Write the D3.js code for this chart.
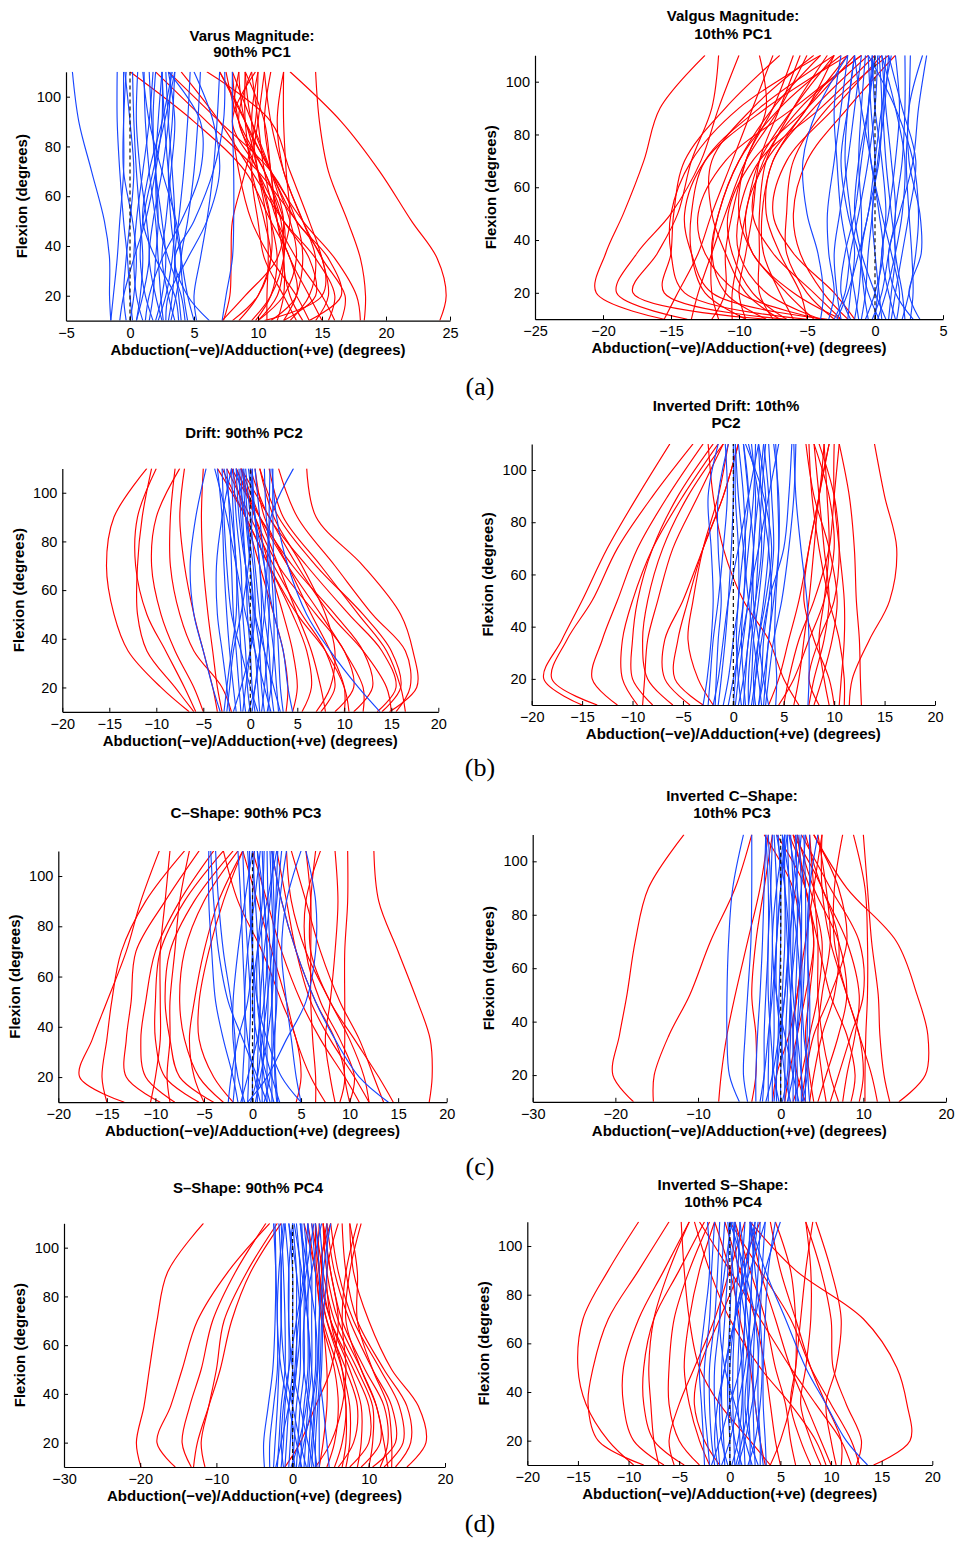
<!DOCTYPE html>
<html>
<head>
<meta charset="utf-8">
<script src="https://cdn.jsdelivr.net/npm/d3@7"></script>
<style>
  html, body { margin: 0; padding: 0; background: #fff; }
  svg { display: block; }
  .tick-label { font-family: "Liberation Sans", Arial, Helvetica, sans-serif; font-size: 14.5px; fill: #000; }
  .title, .axis-title { font-family: "Liberation Sans", Arial, Helvetica, sans-serif; font-size: 15px; font-weight: bold; fill: #000; }
  .panel-label { font-family: "Liberation Serif", "Times New Roman", serif; font-size: 26px; fill: #000; }
</style>
</head>
<body>
<svg id="chart" width="958" height="1545"></svg>
<script>
// ---------------- DATA ----------------
// Each curve: abduction/adduction angle (degrees) at these flexion angles (degrees)
const flexion = [10, 20, 35, 50, 70, 90, 110];

const yTicks = [20, 40, 60, 80, 100];
const xTicksVarus = [-5, 0, 5, 10, 15, 20, 25];
const xTicksValgus = [-25, -20, -15, -10, -5, 0, 5];
const xTicks20 = [-20, -15, -10, -5, 0, 5, 10, 15, 20];
const xTicks30 = [-30, -20, -10, 0, 10, 20];

// (a) Varus Magnitude: 90th% PC1
const varusRed = [
  [24.2, 24.7, 24, 22, 19.5, 16.5, 12.5],
  [18.3, 18.4, 18, 17, 15.5, 14.8, 14.5],
  [18, 17.7, 16, 13.5, 11, 9, 7],
  [14, 16.5, 15.5, 13, 11, 9.5, 9],
  [15.5, 16, 14.5, 12, 9.5, 7, 4],
  [10.5, 15, 15, 13, 10, 6, 2],
  [12, 14.5, 14, 12, 10, 8.5, 8],
  [10, 12, 13, 12.5, 11, 9, 8.5],
  [11, 13, 12.5, 11, 9, 5, 0],
  [9.5, 11, 12, 12, 10.5, 8.5, 9.5],
  [14, 13, 11, 9.5, 8.5, 8, 8.5],
  [7.2, 9, 11.5, 12, 11, 9.5, 8],
  [8, 10, 11, 10.5, 9.5, 9, 9],
  [10.7, 10.7, 10.8, 10.7, 10, 9.5, 10],
  [13, 12, 10.5, 10, 9.5, 10, 10.5],
  [16, 15, 13, 11.5, 10.5, 10, 9.5],
  [12.5, 14, 14.5, 13.5, 12, 11.5, 12],
  [11.5, 12, 12, 11.5, 11, 10.5, 9],
  [9.8, 11, 11.5, 11, 10, 9, 7],
  [14.5, 15.5, 15, 14, 12.5, 11, 6],
  [12, 13, 13.5, 13, 11, 7, 3],
  [15, 14, 12.5, 11.5, 11, 10.5, 11],
  [8.5, 10, 11, 11, 10, 8, 9.8],
  [13.5, 12.5, 12, 12.5, 12.2, 12, 12],
  [10, 11.5, 12, 11.8, 10.5, 8.5, 7.5],
  [16.5, 16.8, 15, 13.5, 12, 11, 10.5],
  [7.3, 7.8, 7.9, 8, 9, 9.8, 10]
];
const varusBlue = [
  [-1.5, -1.6, -1.6, -2, -3, -4, -4.5],
  [-1.5, -1.3, -1, -0.8, -0.5, -0.5, -0.5],
  [-0.3, -0.5, -0.3, 0, 0.3, 0, -0.4],
  [0, 0.3, 0.5, 0.2, -0.5, -0.5, -0.3],
  [0.5, 0.8, 1, 0.8, 0.5, 0.3, 0.2],
  [1, 0.5, 0.3, 0.5, 1, 1.5, 1.8],
  [1.5, 1.8, 2, 2.2, 2, 1.7, 1.5],
  [2, 2.5, 2.8, 2.5, 2, 1.8, 2],
  [2.5, 2, 1.5, 1.8, 2.5, 3, 3.2],
  [3, 3.3, 3.5, 3.2, 3, 3.3, 3.5],
  [3.5, 3, 2.5, 2.8, 3.2, 3.5, 3],
  [4, 3.8, 3.5, 3.8, 4.2, 4.5, 4.7],
  [4.5, 4.2, 4, 4.5, 5, 5.3, 5.5],
  [5, 4.5, 4, 3.5, 3, 2.7, 2.5],
  [5.2, 5, 5.5, 6, 6.5, 6.8, 7],
  [6.2, 4.5, 3.5, 5, 6.5, 7.3, 7.4],
  [7.2, 7.5, 8, 8.1, 8.1, 8, 8],
  [2.8, 3, 4.5, 6, 7, 6.5, 5],
  [1.2, 1.5, 2.5, 4, 5.5, 5.5, 3],
  [0.5, 1, 1.5, 1.3, 0.8, 0.5, 0.6],
  [3.8, 3.5, 2, 1, 1.5, 2.5, 3.3],
  [2.2, 2.8, 3.3, 3.5, 3.3, 3, 2.8],
  [-0.8, -0.5, 0.3, 1.2, 2, 2.5, 2.5],
  [1.8, 1.2, 0.8, 1, 1.8, 2.7, 3.5],
  [3.2, 3.6, 4, 3.6, 2.5, 1.5, 1],
  [4.3, 4, 3, 2.2, 2, 2.2, 2.5],
  [0.2, 0, -0.2, -0.5, -0.8, -1, -1],
  [2.6, 2.4, 2.2, 2, 1.5, 1.2, 1.1]
];

// (a) Valgus Magnitude: 10th% PC1
const valgusRed = [
  [-15.5, -20.5, -19.8, -18.5, -17, -15.8, -12.5],
  [-13.8, -19, -17.5, -15, -12.8, -11.5, -10],
  [-8, -17.8, -16, -14.5, -13.5, -12, -11.5],
  [-6.5, -15.5, -15, -14.8, -14, -11, -7],
  [-5, -14, -15, -15, -13.5, -10, -4],
  [-3.5, -12, -13.5, -14, -12.5, -8, -2],
  [-4, -10, -12.5, -13, -11, -6, -1],
  [-8, -11, -12, -11.5, -10, -7, -2.5],
  [-6.5, -9, -10.5, -10.8, -9, -5, -1.5],
  [-4, -8, -10, -10, -8.5, -4, 0],
  [-2.5, -6, -9, -9.5, -8, -5, -3],
  [-11.5, -12, -12, -11.5, -10, -7.5, -4],
  [-13.5, -13, -12, -11, -9.5, -7, -5],
  [-15.5, -14.5, -13, -12, -10.5, -9, -7.5],
  [-9.5, -10, -9.5, -9, -8.5, -7, -5.5],
  [-7.5, -8.5, -8.5, -8.5, -8, -6, -3.5],
  [-6, -7, -8.2, -8.3, -7.5, -5, -2],
  [-5, -5.5, -7, -8, -7.5, -4.5, -0.5],
  [-1.5, -3, -6, -7.5, -6.5, -3, 0.5],
  [-10.5, -10.5, -10, -9.5, -8.5, -6, -3],
  [-2.5, -4.5, -7.5, -9, -8.2, -5.5, -1],
  [-4.5, -6.5, -9, -10, -9.5, -7.5, -6],
  [-12, -11, -11, -10.5, -9.5, -8, -8.5],
  [-3, -5, -6.5, -6.5, -6, -3.5, 1],
  [-7, -9.5, -11, -12, -12, -9, -4.5],
  [-9.5, -12.5, -13.5, -13.5, -12.5, -8.5, -3],
  [-2, -3.8, -5.5, -6, -5, -2, 1.5]
];
const valgusBlue = [
  [-4, -3.8, -4.2, -5, -5.3, -4.2, -2],
  [-3.4, -3, -3.4, -3.5, -3, -2.5, -2],
  [-2.5, -2.8, -3, -2.6, -2, -1.5, -1],
  [-2, -1.8, -1.5, -1.8, -2.2, -2, -1.5],
  [-1.5, -1.2, -1, -1, -1.2, -1, -0.7],
  [-1, -0.7, -0.5, -0.2, 0, -0.3, -0.5],
  [-0.5, -0.8, -1, -0.5, 0.3, 0.5, 0.3],
  [0, 0.2, 0.5, 0.8, 0.5, 0, -0.2],
  [0.5, 0.3, 0, -0.2, 0.2, 0.7, 1],
  [1, 1.2, 1.5, 1.2, 0.8, 0.6, 0.8],
  [1.5, 1, 0.5, 1, 1.5, 1.8, 1.5],
  [2.2, 2, 1.5, 1.5, 2, 2.2, 2.2],
  [2.6, 2.8, 2.7, 2.5, 2.3, 2.5, 2.6],
  [3.3, 2.5, 3.4, 3.3, 2.5, 2.5, 3.5],
  [-3, -2.2, -1.8, -1.2, -0.5, 0, 0.2],
  [-1.8, -2.5, -2.2, -1.5, -1, -0.5, -0.2],
  [0.8, 0, -1, -1.5, -1.2, -0.5, 0],
  [1.2, 1.5, 2, 2.5, 3, 2, 1],
  [-0.2, 0.5, 1, 1.5, 1.2, 0.8, 0.5],
  [2, 2.5, 3, 3.2, 2.8, 1.5, -0.5],
  [-2.8, -2, -1.2, -0.5, 0, 0.5, 1.2],
  [0.3, -0.5, -1.2, -2, -2.5, -2, -1.5],
  [-1.2, -1.5, -2, -2.5, -2.8, -3, -2.5],
  [1.6, 1.8, 1.2, 0.5, -0.3, -0.5, 0],
  [0.2, 0.8, 1.5, 2, 2.2, 1.5, 0.5],
  [-0.7, 0, 0.6, 0.3, -0.3, -1, -1.5],
  [2.8, 1.5, 1, 1.8, 2.8, 3.2, 3.8]
];

// (b) Drift: 90th% PC2
const driftRed = [
  [-6.5, -9.5, -13, -14.5, -15.3, -14.5, -11],
  [-6, -8, -11, -12, -12, -11.5, -10.5],
  [-5.8, -7, -9, -11, -12.2, -12, -10],
  [-5, -6, -8, -9.5, -10.5, -10, -7.5],
  [-3.5, -4, -5, -6, -7, -7.5, -7],
  [-3, -3.5, -4, -4.5, -5, -5.2, -5],
  [-2, -3, -6, -7.5, -8.5, -8.5, -8],
  [14.8, 17.7, 17.3, 16, 12, 7, 6],
  [15.5, 17, 16.5, 13, 9, 5, 3],
  [14, 16, 15, 12, 7, 3, 1],
  [13.5, 15.5, 14, 10.5, 6, 2, 0],
  [15, 14.5, 12, 8.5, 5, 2, -1],
  [11, 13, 12, 9, 4.5, 1, -2],
  [9, 11, 10, 7, 3, 0.5, -1],
  [7.5, 9, 8, 5.5, 2.5, 0, -2.5],
  [10, 10, 8.5, 6.5, 4, 1.5, 0.5],
  [8, 7.5, 6.5, 5, 3, 1, -1],
  [5.5, 6.5, 6, 4.5, 2, -0.5, -3],
  [12, 12, 10, 7.5, 4, 1, -1.5],
  [7, 8.5, 9, 8, 5.5, 2.5, 1],
  [4.5, 5, 4.5, 3.5, 2, 0.5, -1.5],
  [16.5, 16, 14.5, 11.5, 7.5, 3.5, 2],
  [10.5, 10, 8, 5, 2, -0.5, -3.5],
  [3.8, 4, 3.5, 2.5, 1, -0.5, -2]
];
const driftBlue = [
  [-3.2, -4, -5, -6, -6.4, -5.8, -4.7],
  [13.8, 11.5, 8.5, 6, 4, 2.8, 2.3],
  [0.2, 0.5, 1, 1.5, 1.8, 2.2, 4.6],
  [-2.2, -2.5, -3, -3.5, -3.6, -3, -2],
  [-1.5, -1.8, -2.2, -2.5, -2.8, -3, -3.5],
  [-1, -1.2, -1.5, -1.8, -2, -2.2, -2.5],
  [-0.5, -0.8, -1, -1.2, -1.5, -1.8, -2],
  [0, -0.3, -0.5, -0.8, -1, -1.5, -1.8],
  [0.5, 0.2, 0, -0.3, -0.5, -1, -1.2],
  [1, 0.8, 0.5, 0, -0.5, -0.8, -1],
  [1.5, 1.2, 1, 0.5, 0, -0.5, -0.8],
  [2, 1.8, 1.5, 1, 0.5, 0, -0.5],
  [2.5, 2.2, 2, 1.5, 1, 0.5, 0],
  [3, 2.8, 2.5, 2, 1.5, 1, 0.5],
  [3.5, 3.2, 3, 2.8, 2.5, 2.4, 2.4],
  [4.5, 4, 3.5, 2.5, 1.5, 0.5, -0.2],
  [-2.8, -2.5, -2, -1.5, -1.5, -2, -2.8],
  [-0.2, 0.5, 1, 1.2, 1, 0.5, 0.2],
  [1.8, 2.2, 2.5, 2.5, 2.2, 1.7, 1.5],
  [-1.8, -1, 0, 0.5, 0.3, -0.5, -1.5],
  [0.8, 0, -1, -2, -2.5, -2.8, -3],
  [2.2, 1.5, 0.5, -0.5, -1.5, -2.5, -3.8],
  [-0.8, -0.5, 0, 0.3, 0, -0.3, -0.7],
  [1.2, 1.5, 1.8, 2, 2, 2, 2.1],
  [-2.5, -2.2, -1.8, -1, -0.2, 0.2, 0.2],
  [3.2, 2.5, 1.5, 0.5, -0.5, -1.2, -1.5]
];

// (b) Inverted Drift: 10th% PC2
const invDriftRed = [
  [-15, -18.8, -17, -15, -12.5, -9.5, -6.3],
  [-13.5, -18, -16.5, -14, -11.5, -8, -4],
  [-11.5, -14, -13, -11.5, -9.5, -6.5, -3],
  [-8, -10, -10, -9.5, -8, -5.5, -2],
  [-9.5, -11, -11, -10, -8, -5, -1.5],
  [-6, -8.5, -9, -8.5, -7, -4.5, -1],
  [-4.3, -6.8, -6.8, -5, -3, -1, 0.5],
  [-3, -5.8, -5.5, -4.5, -3, -1, 0.5],
  [-2, -3.5, -4.5, -4, -3, -1.5, -0.5],
  [-9, -8.8, -8.5, -7.5, -6, -3.5, -1],
  [11.5, 11.8, 13.5, 15.5, 16.2, 15, 14],
  [12.7, 12.6, 12.5, 12.2, 12, 11.5, 10.5],
  [10.5, 10.7, 11, 11, 10.5, 10, 10],
  [9.5, 9, 8.5, 9, 9.5, 9.3, 9],
  [8.5, 7.5, 8.5, 10, 10.5, 10, 8.5],
  [7.5, 8, 9, 9.5, 9, 8.5, 8],
  [6, 6.5, 7, 7.5, 8, 8.5, 9.5],
  [10, 9.5, 8, 7, 7.5, 8.5, 9],
  [5, 5.5, 6.5, 8, 9.5, 10, 10.5],
  [4.5, 6, 7.5, 9, 10, 9.5, 8],
  [8, 8.8, 9.8, 10.3, 9.5, 8, 7.2],
  [11, 11, 10.5, 9.5, 8.5, 7.8, 7.5],
  [3.5, 4.5, 5.5, 6.5, 7.5, 8.5, 9.5],
  [6.5, 5, 3.5, 1, -1, -2, -2.5]
];
const invDriftBlue = [
  [-3, -2.6, -2.2, -2, -2.2, -2.5, -1.5],
  [-2.5, -2.3, -2, -1.5, -1, -0.6, -0.8],
  [7.4, 7.5, 7.5, 7.3, 6.7, 6.2, 6],
  [4.2, 4.3, 4.1, 4.2, 4.5, 4.4, 4.2],
  [-1.5, -1.2, -0.8, -0.5, -0.2, 0, 0],
  [-1, -0.5, 0, 0.5, 0.5, 0.2, 0.2],
  [0, 0.2, 0.5, 1, 1.2, 1, 0.5],
  [0.5, 1, 1.5, 1.8, 2, 1.5, 1],
  [1, 1.2, 1.5, 2.2, 2.8, 2.5, 1.5],
  [1.5, 1.8, 2, 2.5, 3, 3.2, 2.5],
  [2, 2.2, 2.5, 3, 3.5, 3.5, 3],
  [2.5, 2.8, 3, 3.5, 4, 3.8, 3.5],
  [3, 3.2, 3.5, 4, 4.5, 4.5, 4],
  [0.2, 0.5, 1, 1.5, 2.5, 3.5, 4.5],
  [1.2, 1, 0.8, 1, 1.5, 2, 2.2],
  [2.8, 2.5, 2, 1.5, 1, 0.5, 0.2],
  [3.5, 3, 2.5, 2, 2, 2.5, 3],
  [-0.5, 0, 0.8, 1.5, 2, 2.2, 1.8],
  [1.8, 2.2, 2.8, 3.5, 5, 5.5, 5.8],
  [2.2, 2, 2.5, 3.2, 3.8, 3, 1.2],
  [0.8, 0.5, 0.3, 0.5, 1, 1.5, 1],
  [-2, -1.5, -1, -0.5, 0.5, 1.5, 2.5],
  [3.2, 3.5, 4, 4.8, 5.5, 6, 6.2],
  [-1.8, -1.7, -1.5, -1.2, -1.5, -1.5, -0.5],
  [1.5, 1.5, 1.8, 2.2, 2.5, 2.8, 3.2],
  [2.5, 3, 3.5, 3.8, 3.5, 2.8, 2.5]
];

// (c) C-Shape: 90th% PC3
const cShapeRed = [
  [-13.2, -17.8, -16.5, -15, -13, -11.5, -9.6],
  [-15, -15.5, -15, -14.5, -13.5, -11, -7],
  [-9.5, -13, -13, -12.5, -12, -9, -5.5],
  [-8, -11, -11.5, -11, -10, -7.5, -4],
  [-5.5, -9, -10, -10, -9.5, -7, -3],
  [-4, -7.5, -8.5, -9, -8.5, -6, -2],
  [-3, -5.5, -7, -7.5, -7, -5, -1.5],
  [-8.5, -8.8, -8.5, -8.5, -8, -7.5, -6.5],
  [-5, -6, -6.5, -6, -5, -3.5, -1],
  [-2, -4, -5.5, -5.5, -4.5, -3, -1],
  [-10.5, -10, -9.5, -9.5, -9.5, -9, -8.5],
  [18.2, 18.5, 18.3, 17, 15, 13, 12.5],
  [14.5, 13, 10.5, 8, 6, 6, 6.5],
  [13.5, 12.5, 11, 9, 7, 5.5, 4],
  [12, 11.5, 10, 8, 5.5, 4, 3.5],
  [10, 10.5, 9, 7, 5.5, 5.5, 7],
  [9, 9.5, 8.5, 6.5, 4.5, 3, 2],
  [8.5, 8, 7.5, 8, 8.5, 8.8, 8.5],
  [10, 9.5, 9.5, 9.5, 9.5, 9.8, 9.8],
  [12, 10.5, 8, 6, 4.5, 3.5, 2.5],
  [6.5, 6.5, 6.2, 6, 6, 6, 5.5],
  [7.5, 6, 4.5, 3.5, 2, 0.5, -1],
  [11, 9.5, 7, 5, 3, 1.5, 0],
  [4.5, 5, 4.5, 3, 1, -1.5, -3]
];
const cShapeBlue = [
  [-1.5, -2, -3, -3.8, -4.2, -4.5, -4.5],
  [14, 11, 8.5, 6.5, 4.5, 3, 2],
  [5, 3, 1.5, 0.5, 0, -0.3, -0.3],
  [-0.5, 1.5, 3.5, 5.5, 6.5, 6.5, 5.5],
  [-2, -1.8, -1.8, -2.2, -3, -3.5, -3.8],
  [1.5, 0.5, -1, -2.5, -3.5, -4, -4.3],
  [-1, -1, -0.8, -0.8, -1, -1.2, -1.5],
  [-0.5, -0.4, -0.3, -0.2, -0.5, -0.8, -1],
  [0, 0, 0.2, 0.2, 0, -0.2, -0.5],
  [0.5, 0.5, 0.6, 0.8, 0.6, 0.3, 0],
  [1, 1, 1.2, 1.2, 1, 0.8, 0.5],
  [1.5, 1.5, 1.5, 1.6, 1.5, 1.2, 1],
  [2, 2, 2, 2, 1.8, 1.6, 1.5],
  [2.5, 2.3, 2.3, 2.4, 2.3, 2.2, 2],
  [-2.5, -2.2, -1.5, -0.5, 0, 0, 0.2],
  [2.2, 1.5, 0.5, 0, 0.5, 1.5, 2.5],
  [-0.2, 0.5, 1, 1.5, 2, 2.5, 3],
  [1.2, 1.8, 2.2, 2.5, 2.5, 2.8, 3.5],
  [0.8, 0.2, -0.5, -0.8, -0.5, 0.2, 0.8],
  [1.8, 1.2, 0.8, 0.8, 1.2, 1.8, 2.2],
  [-1.2, -0.5, 0.5, 1.2, 1.5, 1.2, 0.5],
  [0.3, 0.8, 1.5, 2, 2.2, 2, 1.8],
  [-0.8, -1.5, -2, -2, -1.5, -0.8, 0],
  [2.6, 2.4, 2.2, 2, 2.2, 2.4, 2.6],
  [5, 4.5, 4, 3.5, 3, 3.5, 5],
  [2.8, 2, 1, 0.5, 0.5, 1, 1.2]
];

// (c) Inverted C-Shape: 10th% PC3
const invCShapeRed = [
  [-17.8, -20.3, -19.5, -18.6, -17.6, -16, -11.7],
  [-15.4, -15.3, -13.5, -11, -8.5, -5.5, -3.5],
  [-7.5, -7.2, -6.5, -5.5, -4, -2.5, -1.5],
  [-3.5, -3, -3, -3.5, -3, -2, -1],
  [14.3, 17.5, 17.8, 16.5, 14, 8, 4],
  [13.2, 12.5, 12, 11.8, 11, 10.5, 10],
  [10.2, 10.2, 10.3, 10.5, 10.5, 10.2, 8.8],
  [11.7, 11, 9.5, 8, 6, 5, 5],
  [7.5, 8, 9, 9.5, 8, 5, 3],
  [7, 6, 5, 4.5, 4.5, 4, 3.5],
  [5.5, 5, 4.5, 5, 6, 5.5, 4.5],
  [4.5, 5.5, 7, 8, 7, 4, 2],
  [3.5, 4, 5, 6.5, 7, 5, 1.5],
  [2.5, 3, 4, 6, 8, 7, 4],
  [6, 7, 8.5, 10, 9.5, 6, 2.5],
  [1.5, 2.5, 3.5, 4.5, 5, 3.5, 1],
  [0.5, 1, 2, 3, 4, 3, 1.5],
  [4, 3.5, 3, 3.5, 4, 3, -0.5],
  [-1, -0.5, 1, 2, 2.5, 1.5, -2],
  [8.5, 9, 8, 6, 4.5, 3, 2],
  [3, 2, 1.5, 2, 3, 4, 5],
  [9.5, 10, 9.5, 8, 6.5, 6.5, 7.5]
];
const invCShapeBlue = [
  [-5, -6.2, -6.5, -6.5, -6.3, -5.8, -4.5],
  [-4, -4.5, -4.3, -4, -3.6, -3.5, -3.5],
  [-3, -3, -2.8, -2.5, -2.2, -2, -1.8],
  [-2.2, -2, -2, -1.8, -1.5, -1.5, -1.8],
  [-1.5, -1.5, -1.4, -1.2, -1, -1.2, -1.5],
  [-1, -1, -0.8, -0.8, -0.5, -0.5, -0.8],
  [-0.5, -0.5, -0.3, -0.2, 0, 0, -0.3],
  [0, 0, 0.2, 0.2, 0.5, 0.5, 0.2],
  [0.5, 0.5, 0.6, 0.8, 1, 1, 0.8],
  [1, 1, 1.2, 1.2, 1.5, 1.5, 1.2],
  [1.5, 1.5, 1.5, 1.8, 2, 2, 1.8],
  [2, 2, 2, 2.2, 2.5, 2.5, 2.2],
  [2.5, 2.5, 2.5, 2.7, 3, 3, 2.8],
  [3, 3, 3.2, 3.3, 3.3, 3.5, 3.5],
  [3.5, 3.3, 3.5, 3.5, 3.2, 3.5, 4.5],
  [-1.8, -1, -0.2, 0.5, 1, 0.5, -0.5],
  [2.2, 1.5, 0.5, -0.5, -1, -0.5, 0.5],
  [0.8, 1.5, 2, 2.5, 2.5, 2, 1],
  [-0.8, -0.5, 0, 0.5, 1, 1.8, 2.5],
  [1.2, 0.5, 0, -0.5, -0.5, 0, 0.8],
  [-2.5, -2, -1.5, -1, -0.5, 0, 0.5],
  [2.8, 2.5, 2, 1.5, 1.2, 1.5, 2],
  [0.2, 0.8, 1, 1.2, 1.8, 2.5, 3],
  [1.8, 1.8, 1.5, 1.2, 0.8, 0.5, 0.5],
  [-0.2, -0.8, -1.2, -1.5, -1.5, -1.2, -1],
  [2.6, 3.2, 2.8, 2.5, 2, 1.2, 0.2]
];

// (d) S-Shape: 90th% PC4
const sShapeRed = [
  [-19.9, -20.5, -19.5, -18.8, -17.8, -16.4, -11.7],
  [-15.4, -17.8, -16, -14.5, -12.5, -8.5, -3],
  [-13.3, -14.5, -13.5, -12, -10.5, -7.5, -3.5],
  [-11.5, -12, -11, -10, -9, -6, -2],
  [-13, -12.5, -11, -9.5, -8, -5.5, -1.5],
  [15, 17.5, 16.5, 13, 10, 8, 7.5],
  [13.5, 15.5, 15, 12, 8.5, 7, 6.5],
  [12, 14.5, 14, 11.5, 8, 6, 5],
  [10.5, 13.5, 13, 10.5, 7.5, 5.5, 4.5],
  [11.5, 12.5, 12, 9.5, 6.5, 5, 4],
  [9, 11.5, 11, 9, 6, 4.5, 4],
  [10, 10.5, 10.5, 8.5, 5.5, 4, 3],
  [7.5, 10, 10, 8, 5, 3.5, 3.5],
  [8.5, 9, 9, 7.5, 5, 3.8, 4.5],
  [6, 8, 8.5, 7, 4.5, 3.2, 3],
  [7, 7.5, 7.5, 6.5, 4.5, 3.5, 5],
  [5.5, 6.5, 7, 6, 4, 3, 2],
  [4.5, 5.5, 6, 5.5, 3.8, 3, 1.5],
  [12.5, 12, 11, 9, 7, 7.5, 9],
  [13, 13, 12.5, 10.5, 8.5, 8.5, 7.5],
  [3.5, 4, 4.5, 4.5, 4, 3.5, 2.5],
  [6.5, 7, 7, 6.5, 5, 4.5, 6],
  [-1, 1, 3, 5, 6, 5, 4],
  [3, 5, 6.5, 7, 6.5, 7, 8.5]
];
const sShapeBlue = [
  [-3.7, -3.8, -3.2, -2.6, -2.3, -2.2, -2.3],
  [-3, -3, -2.5, -2, -2, -2.2, -2.5],
  [-2.5, -2.3, -2, -1.8, -1.5, -1.5, -1.8],
  [-2, -1.8, -1.5, -1, -1, -1.2, -1.5],
  [-1.5, -1.2, -1, -0.5, -0.5, -0.5, -1],
  [-1, -0.8, -0.5, 0, 0, 0, -0.5],
  [-0.5, -0.3, 0, 0.5, 0.5, 0.5, 0],
  [0, 0.2, 0.5, 1, 1, 1, 0.5],
  [0.5, 0.7, 1, 1.5, 1.5, 1.5, 1],
  [1, 1.2, 1.5, 2, 2, 2, 1.5],
  [1.5, 1.7, 2, 2.5, 2.5, 2.5, 2],
  [2, 2.2, 2.5, 3, 3, 3, 2.5],
  [2.5, 2.7, 3, 3.3, 3.5, 3.5, 3],
  [3, 3, 3.3, 3.6, 3.8, 4, 3.5],
  [3.5, 3.5, 3.5, 3.8, 4, 4.5, 4.5],
  [4.8, 4.5, 4, 3.5, 3.5, 4, 5],
  [-2.2, -1.5, -0.5, 0.5, 1, 0.5, -0.5],
  [2.8, 2, 1, 0, -0.5, -0.5, 0],
  [0.8, 1.5, 2.5, 3.2, 3, 2, 1],
  [-1.2, -1.5, -1.2, -0.5, 0.5, 1.5, 2],
  [1.8, 1, 0, -1, -1.5, -1.5, -1],
  [0.3, 0, 0, 0.3, 0.8, 1.8, 2.8],
  [-0.2, 0.8, 1.8, 2.2, 2, 1.2, 0.2],
  [2.2, 2.5, 2.8, 2.5, 2, 1.5, 1.2],
  [3.2, 2.8, 2.2, 1.5, 1.5, 2.5, 3.8],
  [1.2, 0.5, -0.5, -1.5, -2, -1.8, -1.2]
];

// (d) Inverted S-Shape: 10th% PC4
const invSShapeRed = [
  [-9.5, -12, -14.2, -15, -14.5, -12, -9],
  [-8.5, -13, -14, -13.5, -12, -9, -6],
  [-6.5, -9.5, -10.5, -10.5, -9, -6.5, -4],
  [-4.5, -7.5, -8.5, -8.5, -7.5, -5, -2.5],
  [-3, -5, -6, -6, -5.5, -4, -2],
  [-2, -3, -4, -4.5, -4, -3, -1.5],
  [-5.5, -6, -5, -3.5, -1.5, 0, 1.5],
  [-1, -2.5, -3.5, -3, -1, 1, 3],
  [14.2, 17.8, 17.5, 16.5, 13.2, 6.5, 2],
  [12.5, 13, 11.5, 10.2, 10, 9, 7.5],
  [12.8, 12, 10, 8, 6, 3, 0],
  [11, 11, 9.5, 8, 6.5, 5, 4],
  [10, 9, 7.5, 6, 4.5, 3, 2],
  [9, 8, 7, 7.5, 8, 8, 7.5],
  [8, 7, 6, 6.5, 7, 7.5, 8.2],
  [6.5, 6, 5.5, 4.5, 3.5, 2, 0.5],
  [5, 4.5, 4, 3.5, 2.5, 1, -0.5],
  [10.5, 10, 9.5, 10.5, 11, 10, 8.5],
  [3.5, 3, 2.5, 2, 1, 0, -1.5],
  [12, 11, 8.5, 6, 3, 0, -3],
  [9.5, 8.5, 6, 3, 0, -2, -3.5],
  [4, 5, 6, 6.5, 6.5, 6, 4.5],
  [4, 2, -1, -3, -4, -4.5, -4.8],
  [-7, -7.5, -7.8, -8, -7.5, -6, -4]
];
const invSShapeBlue = [
  [13.6, 11.5, 9.5, 7.5, 5.5, 3.5, 2],
  [-2.5, -2.6, -2.8, -3, -2.5, -2, -2.2],
  [-2, -2.2, -2.5, -2.5, -2, -1.8, -1.5],
  [-1.5, -1.8, -2, -2, -1.5, -1.2, -1],
  [-1, -1.2, -1.5, -1.5, -1, -0.8, -0.5],
  [-0.5, -0.6, -0.8, -0.8, -0.5, -0.2, 0],
  [0, 0, -0.2, -0.2, 0, 0.2, 0.5],
  [0.5, 0.4, 0.3, 0.3, 0.5, 0.8, 1],
  [1, 1, 0.8, 0.8, 1, 1.2, 1.5],
  [1.5, 1.4, 1.3, 1.3, 1.5, 1.8, 2],
  [2, 2, 1.8, 1.8, 2, 2.2, 2.5],
  [2.5, 2.4, 2.3, 2.3, 2.5, 2.8, 3],
  [3, 3, 2.8, 2.8, 3, 3.2, 3.5],
  [3.6, 3.5, 3.3, 3.3, 3.5, 3.8, 4.5],
  [2.2, 1.5, 0.5, -0.5, -1, -0.5, 0.2],
  [-1.8, -1, 0, 1, 1.5, 1.5, 1],
  [0.8, 1.5, 2.2, 2.8, 2.5, 1.5, 0],
  [-1.2, -1.5, -1.2, -0.5, 0.5, 1.5, 2.5],
  [2.8, 2, 1.5, 1.8, 2.5, 3.5, 5],
  [0.2, 0.8, 1.2, 1.2, 0.8, 0.3, -0.2],
  [1.8, 2.5, 3, 3.2, 3, 2.5, 2],
  [-0.2, -0.8, -1, -0.5, 0.5, 2, 3.5],
  [1.2, 0.5, 0, 0, 0.5, 1.5, 2.2],
  [3.3, 3, 2.5, 2.2, 1.8, 1.2, 0.5],
  [-0.8, 0, 0.8, 1.5, 2, 2.2, 2.8],
  [0.6, 1.2, 1.8, 2, 1.5, 0.8, 0.3]
];

const titles = {
  varus: ["Varus Magnitude:", "90th% PC1"],
  valgus: ["Valgus Magnitude:", "10th% PC1"],
  drift: ["Drift: 90th% PC2"],
  invDrift: ["Inverted Drift: 10th%", "PC2"],
  cShape: ["C\u2013Shape: 90th% PC3"],
  invCShape: ["Inverted C\u2013Shape:", "10th% PC3"],
  sShape: ["S\u2013Shape: 90th% PC4"],
  invSShape: ["Inverted S\u2013Shape:", "10th% PC4"]
};
const xAxisTitle = "Abduction(\u2212ve)/Adduction(+ve) (degrees)";
const yAxisTitle = "Flexion (degrees)";
const panelLabels = ["(a)", "(b)", "(c)", "(d)"];

// ---------------- LAYOUT ----------------
const panels = [
  { red: varusRed, blue: varusBlue, xDomain: [-5, 25], xTicks: xTicksVarus, box: [66, 450, 71.8, 320.6], title: titles.varus, titleX: 252, titleY: [40.5, 57] },
  { red: valgusRed, blue: valgusBlue, xDomain: [-25, 5], xTicks: xTicksValgus, box: [535, 943, 55.3, 319.2], title: titles.valgus, titleX: 733, titleY: [21, 38.5] },
  { red: driftRed, blue: driftBlue, xDomain: [-20, 20], xTicks: xTicks20, box: [62.3, 438.3, 468.4, 711.8], title: titles.drift, titleX: 244, titleY: [437.5] },
  { red: invDriftRed, blue: invDriftBlue, xDomain: [-20, 20], xTicks: xTicks20, box: [531.7, 935, 443.9, 705], title: titles.invDrift, titleX: 726, titleY: [411, 427.5] },
  { red: cShapeRed, blue: cShapeBlue, xDomain: [-20, 20], xTicks: xTicks20, box: [58.3, 446.7, 850.9, 1102.2], title: titles.cShape, titleX: 246, titleY: [817.5] },
  { red: invCShapeRed, blue: invCShapeBlue, xDomain: [-30, 20], xTicks: xTicks30, box: [532.7, 946, 834.6, 1101.8], title: titles.invCShape, titleX: 732, titleY: [800.5, 817.5] },
  { red: sShapeRed, blue: sShapeBlue, xDomain: [-30, 20], xTicks: xTicks30, box: [64, 445, 1223.3, 1467], title: titles.sShape, titleX: 248, titleY: [1192.5] },
  { red: invSShapeRed, blue: invSShapeBlue, xDomain: [-20, 20], xTicks: xTicks20, box: [527.3, 932.3, 1221.7, 1465], title: titles.invSShape, titleX: 723, titleY: [1190, 1207] }
];
const labelY = [395, 776, 1175, 1532];

const RED = "#ff0000";
const BLUE = "#1846ff";

const svg = d3.select("#chart");

panels.forEach((p, i) => {
  const [L, R, T, B] = p.box;
  const x = d3.scaleLinear().domain(p.xDomain).range([L, R]);
  const y = d3.scaleLinear().domain([10, 110]).range([B, T]);
  const g = svg.append("g");

  const clipId = "clip" + i;
  svg.append("clipPath").attr("id", clipId)
    .append("rect").attr("x", L).attr("y", T).attr("width", R - L).attr("height", B - T);

  const line = d3.line()
    .x(d => x(d[0]))
    .y(d => y(d[1]))
    .curve(d3.curveCatmullRom.alpha(0.5));

  const toPts = arr => arr.map((v, k) => [v, flexion[k]]);

  const plot = g.append("g").attr("clip-path", `url(#${clipId})`);
  plot.selectAll("path.red").data(p.red).join("path")
    .attr("class", "red")
    .attr("d", d => line(toPts(d)))
    .attr("fill", "none").attr("stroke", RED).attr("stroke-width", 1.15);
  plot.selectAll("path.blue").data(p.blue).join("path")
    .attr("class", "blue")
    .attr("d", d => line(toPts(d)))
    .attr("fill", "none").attr("stroke", BLUE).attr("stroke-width", 1.15);
  // zero reference (dashed)
  plot.append("line")
    .attr("x1", x(0)).attr("x2", x(0)).attr("y1", y(10)).attr("y2", y(110))
    .attr("stroke", "#111").attr("stroke-width", 1.2).attr("stroke-dasharray", "4,3");

  // axes (MATLAB style, ticks inward)
  const xAxis = d3.axisBottom(x).tickValues(p.xTicks).tickSizeInner(-4).tickSizeOuter(0)
    .tickFormat(v => (v < 0 ? "\u2212" + Math.abs(v) : String(v)));
  const gx = g.append("g").attr("transform", `translate(0,${B})`).call(xAxis);
  gx.select(".domain").attr("stroke", "#000").attr("stroke-width", 1.2);
  gx.selectAll(".tick line").attr("stroke", "#000");
  gx.selectAll(".tick text").attr("class", "tick-label").attr("font-size", null).attr("font-family", null).attr("y", 7).attr("dy", "0.71em");

  const yAxis = d3.axisLeft(y).tickValues(yTicks).tickSizeInner(-4).tickSizeOuter(0);
  const gy = g.append("g").attr("transform", `translate(${L},0)`).call(yAxis);
  gy.select(".domain").attr("stroke", "#000").attr("stroke-width", 1.2);
  gy.selectAll(".tick line").attr("stroke", "#000");
  gy.selectAll(".tick text").attr("class", "tick-label").attr("font-size", null).attr("font-family", null).attr("x", -5);

  // titles
  p.title.forEach((t, k) => {
    g.append("text").attr("class", "title").attr("x", p.titleX).attr("y", p.titleY[k])
      .attr("text-anchor", "middle").text(t);
  });
  // axis titles
  g.append("text").attr("class", "axis-title")
    .attr("x", (L + R) / 2).attr("y", B + 34).attr("text-anchor", "middle").text(xAxisTitle);
  g.append("text").attr("class", "axis-title")
    .attr("transform", `translate(${L - 44},${(T + B) / 2}) rotate(-90)`)
    .attr("text-anchor", "middle").attr("dy", "0.35em").text(yAxisTitle);
});

panelLabels.forEach((t, i) => {
  svg.append("text").attr("class", "panel-label").attr("x", 480).attr("y", labelY[i])
    .attr("text-anchor", "middle").text(t);
});
</script>
</body>
</html>
